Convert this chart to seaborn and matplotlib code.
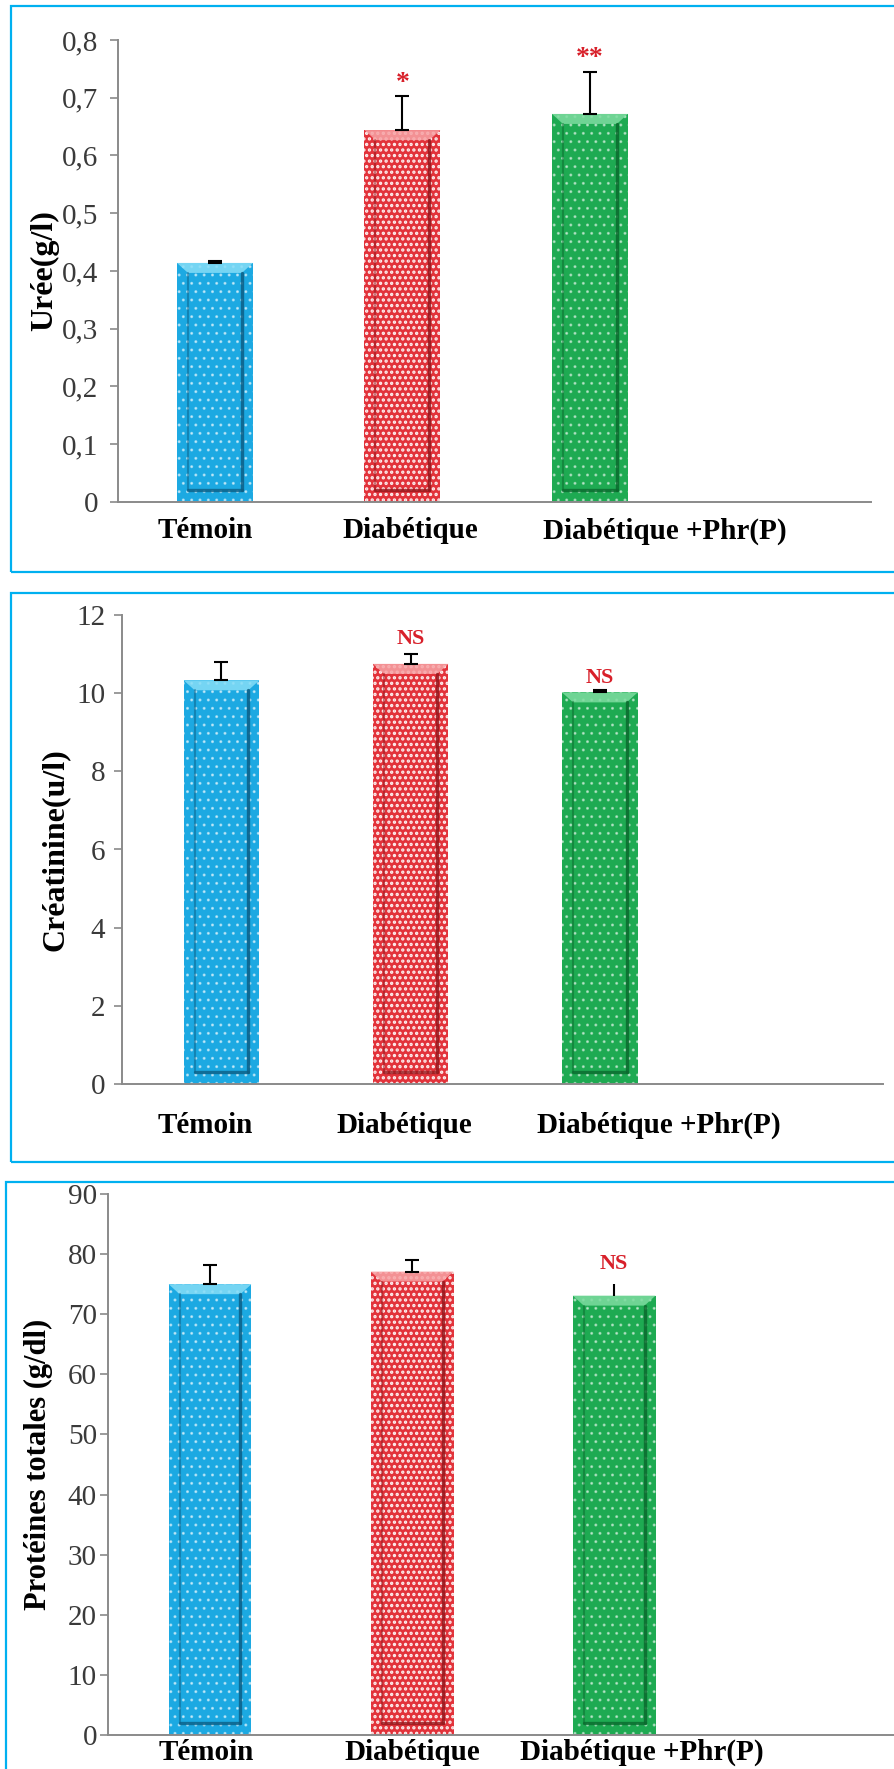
import matplotlib
matplotlib.use("Agg")
import matplotlib.pyplot as plt
import seaborn as sns
import pandas as pd
from matplotlib.patches import Rectangle, Polygon
from matplotlib.transforms import ScaledTranslation

# ---------------- data ----------------
groups = ["Témoin", "Diabétique", "Diabétique +Phr(P)"]

uree = [0.414, 0.644, 0.672]
uree_err = [0.004, 0.059, 0.073]
uree_marks = ["", "*", "**"]
uree_ticks = [0, 0.1, 0.2, 0.3, 0.4, 0.5, 0.6, 0.7, 0.8]
uree_ticklabels = ["0", "0,1", "0,2", "0,3", "0,4", "0,5", "0,6", "0,7", "0,8"]

creat = [10.33, 10.75, 10.02]
creat_err = [0.48, 0.26, 0.06]
creat_marks = ["", "NS", "NS"]
creat_ticks = [0, 2, 4, 6, 8, 10, 12]
creat_ticklabels = ["0", "2", "4", "6", "8", "10", "12"]

prot = [75.0, 77.1, 73.1]
prot_err = [3.2, 2.0, 2.0]
prot_marks = ["", "", "NS"]
prot_ticks = [0, 10, 20, 30, 40, 50, 60, 70, 80, 90]
prot_ticklabels = ["0", "10", "20", "30", "40", "50", "60", "70", "80", "90"]

ylabels = ["Urée(g/l)", "Créatinine(u/l)", "Protéines totales (g/dl)"]

# ---------------- style ----------------
W, H, DPI = 894, 1769, 100
SERIF = "Liberation Serif"
bar_colors = ["#1CA9E2", "#E2323A", "#1EAA52"]
dark_colors = ["#0C5E85", "#96181D", "#0B6A2E"]
light_colors = ["#86DDF7", "#F7A3A5", "#7EDCA0"]
hatch_colors = [(1, 1, 1, 0.5), (1, 1, 1, 0.92), (1, 1, 1, 0.45)]
hatches = ["..", "...", ".."]
hatch_widths = [1.0, 1.6, 1.0]
frame_color = "#00B0F0"
mark_color = "#D8202A"

# pixel layout of each panel: axes box, x range, bar width, border box
panels = [
    dict(values=uree, errs=uree_err, marks=uree_marks, ticks=uree_ticks,
         ticklabels=uree_ticklabels, ylabel=ylabels[0], ylabel_size=23,
         box=(118, 40, 871, 502), xlim=(-0.517, 3.499), width=0.405,
         border=(11, 6, 905, 572), ylabel_x=45, tick_pad=8,
         xlabel_pad=11, xlabel_dx=[-10, 8, 75], mark_dy=[0, 13, 13],
         mark_size=[0, 20, 20], caps=[5, 5, 5]),
    dict(values=creat, errs=creat_err, marks=creat_marks, ticks=creat_ticks,
         ticklabels=creat_ticklabels, ylabel=ylabels[1], ylabel_size=23,
         box=(122, 615, 883, 1084), xlim=(-0.526, 3.497), width=0.40,
         border=(11, 593, 905, 1162), ylabel_x=55, tick_pad=6,
         xlabel_pad=20, xlabel_dx=[-16, -6, 59], mark_dy=[0, 15, 12],
         mark_size=[0, 16, 16], caps=[5, 5, 5]),
    dict(values=prot, errs=prot_err, marks=prot_marks, ticks=prot_ticks,
         ticklabels=prot_ticklabels, ylabel=ylabels[2], ylabel_size=22,
         box=(108, 1194, 894, 1735), xlim=(-0.505, 3.385), width=0.41,
         border=(6, 1182, 905, 1790), ylabel_x=38, tick_pad=2,
         xlabel_pad=3, xlabel_dx=[-4, 0, 28], mark_dy=[0, 0, 20],
         mark_size=[0, 0, 16], caps=[5, 5, 0]),
]

sns.set_theme(style="white")
plt.rcParams["font.family"] = [SERIF, "DejaVu Serif"]
plt.rcParams["hatch.linewidth"] = 1.0

fig = plt.figure(figsize=(W / DPI, H / DPI), dpi=DPI)
fig.patch.set_facecolor("white")

for p in panels:
    # blue frame around the panel
    bx0, by0, bx1, by1 = p["border"]
    fig.patches.append(Rectangle((bx0 / W, 1 - by1 / H), (bx1 - bx0) / W, (by1 - by0) / H,
                                 transform=fig.transFigure, fill=False,
                                 edgecolor=frame_color, linewidth=1.6, zorder=0))

    l, t, r, b = p["box"]
    ax = fig.add_axes([l / W, 1 - b / H, (r - l) / W, (b - t) / H])
    df = pd.DataFrame({"groupe": groups, "valeur": p["values"]})
    sns.barplot(data=df, x="groupe", y="valeur", hue="groupe", palette=bar_colors,
                errorbar=None, saturation=1, width=p["width"], legend=False, ax=ax)

    ax.set_xlim(*p["xlim"])
    ax.set_ylim(p["ticks"][0], p["ticks"][-1])

    # pixel -> data conversion for bevel decorations
    ppx = (r - l) / (p["xlim"][1] - p["xlim"][0])
    ppy = (b - t) / (p["ticks"][-1] - p["ticks"][0])
    ix, iy, top_h = 11 / ppx, 12 / ppy, 10 / ppy

    for i, bar in enumerate(ax.patches):
        bar.set_hatch(hatches[i])
        bar.set_edgecolor(hatch_colors[i])
        bar.set_linewidth(0)
        try:
            bar.set_hatch_linewidth(hatch_widths[i])
        except AttributeError:
            pass
        x0, w, h = bar.get_x(), bar.get_width(), bar.get_height()
        # lighter top bevel
        ax.add_patch(Polygon([(x0, h), (x0 + w, h), (x0 + w - ix, h - top_h), (x0 + ix, h - top_h)],
                             closed=True, facecolor=light_colors[i], edgecolor="none",
                             alpha=0.85, zorder=3))
        # inner darker frame giving the bar a boxed look
        ax.plot([x0 + ix, x0 + ix], [iy, h - top_h], color=dark_colors[i], lw=1.5, alpha=0.5, zorder=3)
        ax.plot([x0 + w - ix, x0 + w - ix], [iy, h - top_h], color=dark_colors[i], lw=2.4, alpha=0.85, zorder=3)
        ax.plot([x0 + ix, x0 + w - ix], [iy, iy], color=dark_colors[i], lw=2.4, alpha=0.8, zorder=3)

        # upward error bar
        cx = x0 + w / 2
        ax.errorbar([cx], [p["values"][i]], yerr=[[0], [p["errs"][i]]], fmt="none",
                    ecolor="black", elinewidth=1.5, capsize=p["caps"][i], capthick=1.5, zorder=4)
        if p["marks"][i]:
            ax.annotate(p["marks"][i], xy=(cx, p["values"][i] + p["errs"][i]),
                        xytext=(0, p["mark_dy"][i] * 0.72), textcoords="offset points",
                        ha="center", va="center", color=mark_color, fontweight="bold",
                        fontsize=p["mark_size"][i], zorder=5)

    # axes styling
    sns.despine(ax=ax)
    for side in ("left", "bottom"):
        ax.spines[side].set_color("#8a8a8a")
        ax.spines[side].set_linewidth(1.4)
    ax.set_yticks(p["ticks"], p["ticklabels"])
    ax.tick_params(axis="y", direction="out", length=6, width=1.2, color="#8a8a8a",
                   labelsize=21, labelcolor="#3a3a3a", pad=p["tick_pad"], left=True)
    ax.set_xticks(range(len(groups)), groups)
    ax.tick_params(axis="x", length=0, labelsize=21, pad=p["xlabel_pad"], labelcolor="black")
    for lab, dx in zip(ax.get_xticklabels(), p["xlabel_dx"]):
        lab.set_fontweight("bold")
        lab.set_transform(lab.get_transform() + ScaledTranslation(dx / DPI, 0, fig.dpi_scale_trans))
    ax.set_xlabel("")
    ax.set_ylabel(p["ylabel"], fontsize=p["ylabel_size"], fontweight="bold", color="black", va="center")
    ax.yaxis.set_label_coords((p["ylabel_x"] - l) / (r - l), 0.5)
    ax.set_facecolor("none")

fig.savefig("out.png", dpi=DPI, facecolor="white")
